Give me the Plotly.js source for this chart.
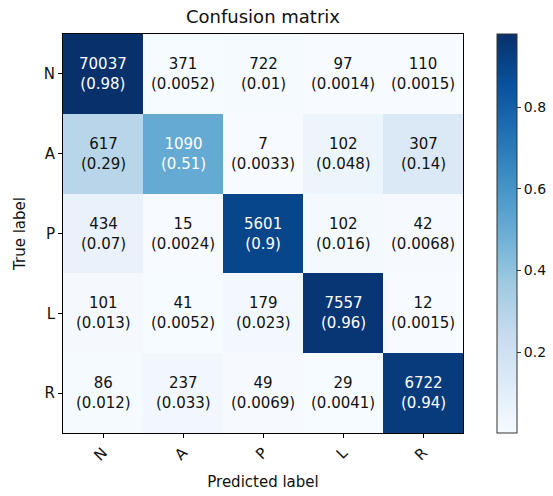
<!DOCTYPE html>
<html>
<head>
<meta charset="utf-8">
<script src="https://cdn.plot.ly/plotly-3.0.1.min.js"></script>
<style>html,body{margin:0;padding:0;background:#fff;}#chart{width:553px;height:496px;}</style>
</head>
<body>
<div id="chart"></div>
<script>
const labels = ["N", "A", "P", "L", "R"];
const counts = [
  [70037, 371, 722, 97, 110],
  [617, 1090, 7, 102, 307],
  [434, 15, 5601, 102, 42],
  [101, 41, 179, 7557, 12],
  [86, 237, 49, 29, 6722]
];
const normText = [
  ["0.98", "0.0052", "0.01", "0.0014", "0.0015"],
  ["0.29", "0.51", "0.0033", "0.048", "0.14"],
  ["0.07", "0.0024", "0.9", "0.016", "0.0068"],
  ["0.013", "0.0052", "0.023", "0.96", "0.0015"],
  ["0.012", "0.033", "0.0069", "0.0041", "0.94"]
];
const norm = normText.map(r => r.map(Number));
const colorbarTicks = [0.2, 0.4, 0.6, 0.8];

const blues = [
  [0, "#f7fbff"], [0.125, "#deebf7"], [0.25, "#c6dbef"], [0.375, "#9ecae1"],
  [0.5, "#6baed6"], [0.625, "#4292c6"], [0.75, "#2171b5"], [0.875, "#08519c"], [1, "#08306b"]
];
const flat = norm.flat();
const zmin = Math.min(...flat), zmax = Math.max(...flat);
const thresh = zmax / 2;

const annotations = [];
for (let i = 0; i < labels.length; i++) {
  for (let j = 0; j < labels.length; j++) {
    annotations.push({
      x: labels[j], y: labels[i], xref: "x", yref: "y",
      text: counts[i][j] + "<br>(" + normText[i][j] + ")",
      showarrow: false,
      font: {family: "DejaVu Sans", size: 15, color: norm[i][j] > thresh ? "#ffffff" : "#111111"}
    });
  }
}
annotations.push({
  text: "Confusion matrix", xref: "paper", yref: "paper", x: 0.5, y: 1, yshift: 5,
  xanchor: "center", yanchor: "bottom", showarrow: false,
  font: {family: "DejaVu Sans", size: 18, color: "#111"}
});

const trace = {
  type: "heatmap",
  x: labels, y: labels, z: norm,
  zmin: zmin, zmax: zmax,
  colorscale: blues,
  xgap: 0, ygap: 0,
  hoverinfo: "skip",
  colorbar: {
    x: 1.085, xanchor: "left", xpad: 0, y: 0.5, yanchor: "middle", len: 1.0, lenmode: "fraction", ypad: 0,
    thickness: 20, outlinewidth: 1, outlinecolor: "#333",
    tickvals: colorbarTicks, ticktext: colorbarTicks.map(String),
    ticks: "outside", ticklen: 4, tickcolor: "#333",
    tickfont: {family: "DejaVu Sans", size: 14, color: "#111"}
  }
};

const layout = {
  width: 553, height: 496,
  margin: {l: 63, r: 90, t: 34, b: 63, autoexpand: false},
  paper_bgcolor: "#fff", plot_bgcolor: "#fff",
  font: {family: "DejaVu Sans", color: "#111"},
  xaxis: {
    type: "category", tickangle: -45, ticks: "outside", ticklen: 4, tickcolor: "#000",
    showline: true, linecolor: "#000", linewidth: 1, mirror: true, showgrid: false, zeroline: false,
    tickfont: {family: "DejaVu Sans", size: 15, color: "#111"},
    title: {text: "Predicted label", font: {family: "DejaVu Sans", size: 15, color: "#111"}, standoff: 12}
  },
  yaxis: {
    type: "category", autorange: "reversed", ticks: "outside", ticklen: 4, tickcolor: "#000",
    showline: true, linecolor: "#000", linewidth: 1, mirror: true, showgrid: false, zeroline: false,
    tickfont: {family: "DejaVu Sans", size: 15, color: "#111"},
    title: {text: "True label", font: {family: "DejaVu Sans", size: 15, color: "#111"}, standoff: 14}
  },
  annotations: annotations
};

Plotly.newPlot("chart", [trace], layout, {staticPlot: true, displayModeBar: false});
</script>
</body>
</html>
